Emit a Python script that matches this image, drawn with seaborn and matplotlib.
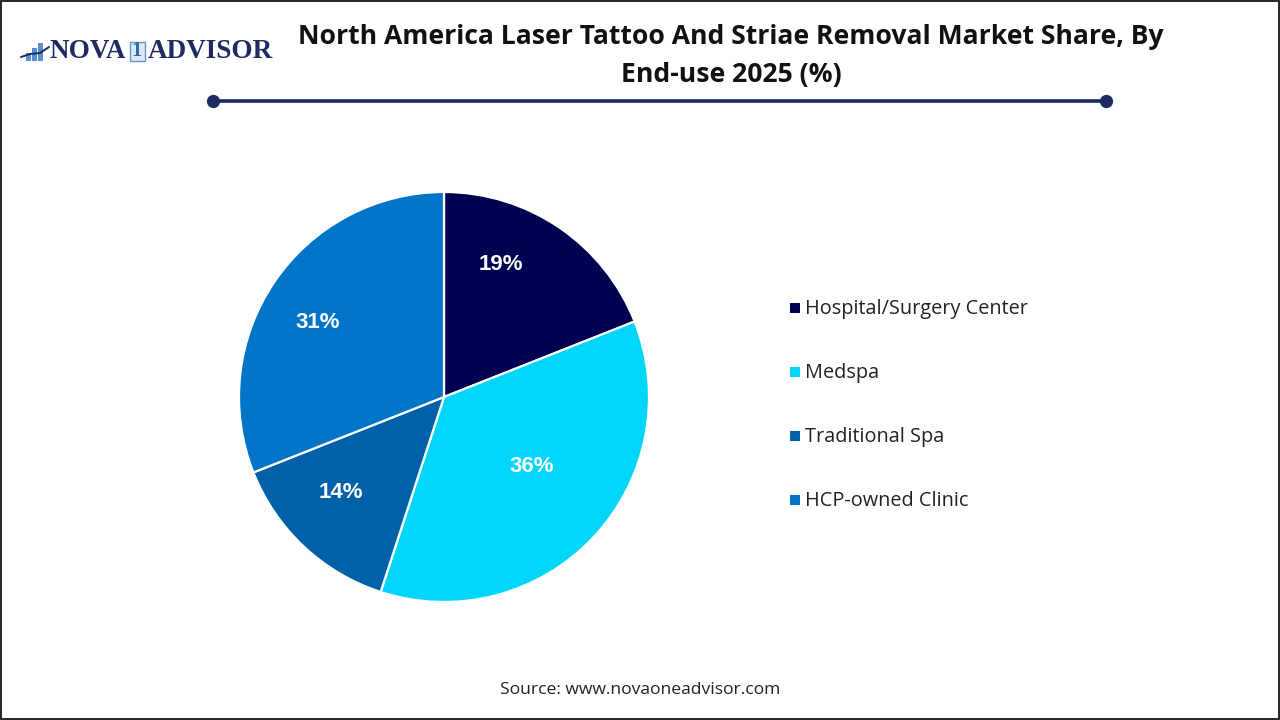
import matplotlib
matplotlib.use("Agg")
import matplotlib.pyplot as plt
from matplotlib.patches import Rectangle
import seaborn as sns

categories = ["Hospital/Surgery Center", "Medspa", "Traditional Spa", "HCP-owned Clinic"]
shares = [19, 36, 14, 31]
colors = ["#000050", "#00D5FA", "#0060A8", "#0075C8"]
title_lines = ["North America Laser Tattoo And Striae Removal Market Share, By", "End-use 2025 (%)"]
source = "Source: www.novaoneadvisor.com"

sns.set_theme(style="white")
plt.rcParams["font.family"] = ["Open Sans", "DejaVu Sans"]
W, H = 1280, 720
fig = plt.figure(figsize=(W / 100, H / 100), dpi=100, facecolor="white")

# page overlay in pixel coordinates
bg = fig.add_axes([0, 0, 1, 1])
bg.set_xlim(0, W)
bg.set_ylim(H, 0)
bg.axis("off")
bg.add_patch(Rectangle((1, 1), W - 2, H - 2, fill=False, ec="black", lw=1.2, clip_on=False))

bg.text(731, 37, title_lines[0], ha="center", va="center", fontsize=19.1, fontweight="bold", color="#111111")
bg.text(731, 75, title_lines[1], ha="center", va="center", fontsize=19.1, fontweight="bold", color="#111111")
bg.plot([213, 1106], [101, 101], color="#1F2A63", lw=2.6, solid_capstyle="butt")
bg.plot([213, 1106], [101, 101], "o", color="#1F2A63", ms=8.5)

# logo
navy = "#1F2A63"
for x, h in [(26, 8), (32, 13), (38, 18)]:
    bg.add_patch(Rectangle((x, 61 - h), 5, h, color="#5B8FD0", lw=0))
bg.plot([21, 30, 40, 49], [57, 54, 53, 47], color=navy, lw=1.4)
bg.text(50, 52, "NOVA", ha="left", va="center", family="Liberation Serif", fontweight="bold", fontsize=19.5, color=navy)
bg.add_patch(Rectangle((129.5, 41.5), 15, 19, fc="#DCE8F5", ec="#6E93C4", lw=1))
bg.text(137, 51.5, "1", ha="center", va="center", family="Liberation Serif", fontweight="bold", fontsize=15, color="#2E6DA8")
bg.text(148, 52, "ADVISOR", ha="left", va="center", family="Liberation Serif", fontweight="bold", fontsize=19.5, color=navy)

# pie
ax = fig.add_axes([239 / W, 1 - 602 / H, 410 / W, 410 / H])
wedges, _, pct = ax.pie(shares, colors=colors, startangle=90, counterclock=False, radius=1,
       wedgeprops=dict(edgecolor="white", linewidth=1.6),
       labels=[f"{v}%" for v in shares], labeldistance=None,
       autopct="%d%%", pctdistance=0.68,
       textprops=dict(color="white", fontsize=16, fontweight="bold", family="Liberation Sans"))
ax.set_xlim(-1, 1)
ax.set_ylim(-1, 1)
# label placement inside the wedges, as offsets from the pie centre (px)
for t, (dx, dy) in zip(pct, [(57, 133), (88, -70), (-103, -96), (-126, 74)]):
    t.set_position((dx / 205, dy / 205))

# legend
for name, c, y in zip(categories, colors, [307.5, 371.5, 435.5, 499.5]):
    bg.add_patch(Rectangle((790, y - 5), 10, 10, color=c, lw=0))
    bg.text(805, y + 1.5, name, ha="left", va="center", fontsize=14.3, color="#222222")

bg.text(640, 690, source, ha="center", va="center", fontsize=12.6, color="#222222")
fig.savefig("out.png", dpi=100)
